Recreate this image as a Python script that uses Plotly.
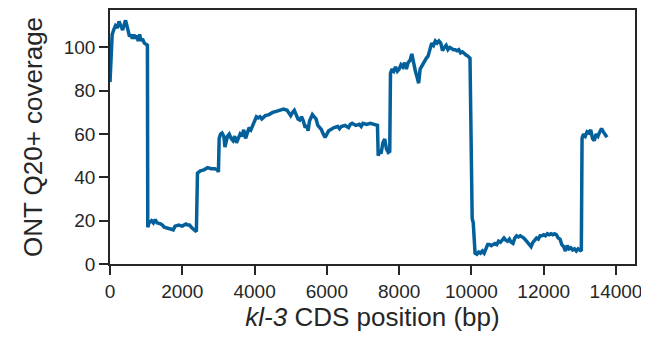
import plotly.graph_objects as go

# CDS position (bp)
position = [
    0, 30, 60, 100, 150, 200, 250, 300, 350, 400, 430, 470, 500, 540, 580, 620, 660, 700, 740, 780,
    820, 860, 900, 950, 1000, 1035, 1045, 1080, 1150, 1200, 1250, 1300, 1400, 1450, 1500, 1600, 1700,
    1750, 1800, 1900, 2000, 2100, 2150, 2200, 2250, 2300, 2350, 2390, 2410, 2420, 2500, 2600, 2700,
    2800, 2900, 2970, 3000, 3020, 3060, 3100, 3150, 3180, 3250, 3300, 3350, 3400, 3450, 3500, 3550,
    3600, 3650, 3700, 3750, 3800, 3850, 3900, 3950, 4000, 4050, 4100, 4150, 4200, 4300, 4400, 4500,
    4600, 4700, 4800, 4900, 4950, 5000, 5050, 5100, 5150, 5200, 5250, 5300, 5350, 5400, 5450, 5480,
    5520, 5600, 5650, 5700, 5750, 5800, 5850, 5900, 5950, 6000, 6050, 6100, 6150, 6200, 6300, 6350,
    6400, 6500, 6600, 6650, 6700, 6800, 6900, 6950, 7000, 7100, 7200, 7300, 7350, 7400, 7420, 7450,
    7500, 7550, 7600, 7650, 7700, 7740, 7760, 7800, 7850, 7900, 7950, 8000, 8050, 8100, 8150, 8200,
    8250, 8300, 8350, 8400, 8450, 8500, 8540, 8580, 8650, 8700, 8750, 8800, 8850, 8900, 8950, 9000,
    9050, 9100, 9150, 9200, 9250, 9300, 9350, 9400, 9450, 9500, 9550, 9600, 9650, 9700, 9750, 9800,
    9850, 9900, 9960, 10020, 10050, 10100, 10150, 10200, 10250, 10300, 10350, 10400, 10450, 10500,
    10550, 10600, 10650, 10700, 10750, 10800, 10850, 10900, 10950, 11000, 11050, 11100, 11150, 11200,
    11250, 11300, 11350, 11400, 11450, 11500, 11550, 11600, 11650, 11700, 11750, 11800, 11850, 11900,
    11950, 12000, 12050, 12100, 12150, 12200, 12250, 12300, 12350, 12400, 12450, 12500, 12550, 12600,
    12650, 12700, 12750, 12800, 12850, 12900, 12950, 13000, 13040, 13060, 13100, 13150, 13200, 13250,
    13300, 13350, 13400, 13450, 13500, 13550, 13600, 13650, 13700, 13750,
]

# ONT Q20+ coverage
coverage = [
    84, 98, 106, 108, 110, 109, 112, 110, 108, 111, 112.5, 110, 108, 105, 106, 104, 106, 104, 105.5, 103,
    106, 103, 104, 102, 101.5, 101, 17, 19, 20, 19, 20.5, 19, 18.5, 18, 17, 16.5, 16,
    15.8, 17.5, 18, 17.5, 18.5, 18, 18, 17, 16, 15.5, 15, 41, 42, 43, 43.5, 44.5,
    44, 44, 43.5, 42.5, 58, 60, 60.5, 59, 54, 59, 60, 58, 57, 59, 56, 58,
    60, 59, 62, 58, 61, 63, 62, 64, 66, 68, 67.5, 68, 67, 68.5, 69, 70,
    70.5, 71, 71.5, 71, 70, 68.5, 70, 71, 69, 67, 66.5, 68, 66, 63, 64, 61.5,
    66, 69, 68, 67, 64, 63, 62, 60, 58.5, 60, 61.5, 62, 62.5, 63, 63.5, 62.5,
    63.5, 64, 63, 64.5, 65, 64, 64.5, 63.5, 65, 64.5, 65, 64.5, 64, 64, 50, 52,
    51, 56, 57.7, 53, 51.5, 52, 88, 90, 89, 91, 89, 90, 92, 91, 93, 90,
    93, 94, 97, 92, 89, 86, 83.5, 90, 92, 94, 95, 96, 99, 102, 101, 103,
    102, 103, 102, 98.5, 100, 101, 99, 100, 99.5, 99, 99, 98.5, 99, 97.5, 98, 97,
    96.5, 96, 95, 21, 19, 5, 4.5, 5.5, 5, 6, 5, 7, 9, 9,
    8.5, 9, 9.5, 9, 10.5, 10, 11, 12, 11, 10.5, 11.5, 10, 9.5, 12,
    13, 12.5, 13, 12.5, 12, 11, 10, 9, 8, 10, 11, 12, 11.5, 13,
    13, 13.5, 13, 14, 13.5, 14, 13.5, 14, 13.5, 12, 11.5, 9, 8, 6,
    8.5, 7, 7.5, 6.5, 7, 6, 7, 6.5, 6, 58, 60, 59, 61, 60.5,
    62, 58, 57, 60, 59, 61, 62.5, 61, 60, 58.5,
]

x_ticks = [0, 2000, 4000, 6000, 8000, 10000, 12000, 14000]
x_tick_labels = ["0", "2000", "4000", "6000", "8000", "10000", "12000", "14000"]
y_ticks = [0, 20, 40, 60, 80, 100]
y_tick_labels = ["0", "20", "40", "60", "80", "100"]

AX = "#262626"
FONT = "Liberation Sans, Arial, sans-serif"

fig = go.Figure(
    go.Scatter(
        x=position, y=coverage, mode="lines",
        line=dict(color="#03609b", width=3.5),
        hoverinfo="skip",
    )
)

axis_common = dict(
    showline=True, mirror=True, linecolor=AX, linewidth=1.5,
    ticks="outside", ticklen=9, tickwidth=1.5, tickcolor=AX,
    showgrid=False, zeroline=False,
    tickfont=dict(family=FONT, size=19, color=AX),
)

fig.update_layout(
    width=641, height=339,
    margin=dict(l=102, r=14, t=0, b=83),
    paper_bgcolor="white", plot_bgcolor="white",
    showlegend=False,
    xaxis=dict(
        range=[0, 14525], tickvals=x_ticks, ticktext=x_tick_labels,
        title=dict(text="<i>kl-3</i> CDS position (bp)", font=dict(family=FONT, size=26, color=AX), standoff=7),
        **axis_common,
    ),
    yaxis=dict(
        range=[0, 117.3], tickvals=y_ticks, ticktext=y_tick_labels,
        title=dict(text="ONT Q20+ coverage", font=dict(family=FONT, size=26, color=AX), standoff=14),
        **axis_common,
    ),
)

fig.write_html("out.html")
